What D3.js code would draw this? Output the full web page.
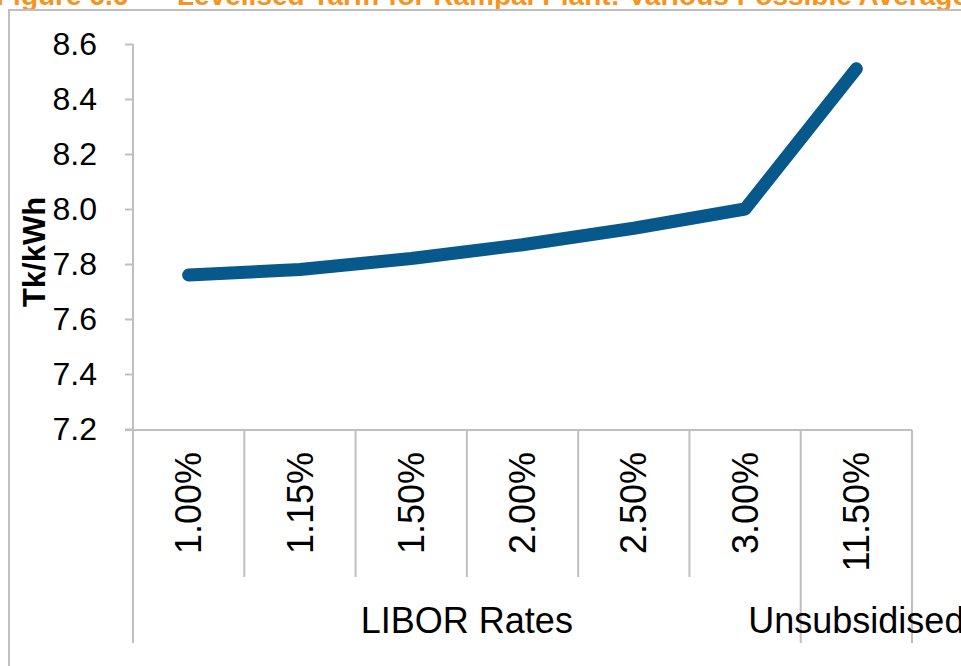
<!DOCTYPE html>
<html>
<head>
<meta charset="utf-8">
<script src="https://cdn.jsdelivr.net/npm/d3@7"></script>
<style>
  body { margin: 0; background: #fff; }
  svg { display: block; font-family: "Liberation Sans", Arial, sans-serif; }
</style>
</head>
<body>
<div id="chart"></div>
<script>
// data
const categories = ["1.00%", "1.15%", "1.50%", "2.00%", "2.50%", "3.00%", "11.50%"];
const tariff = [7.76, 7.78, 7.82, 7.87, 7.93, 8.00, 8.51];
const groupNames = ["LIBOR Rates", "Unsubsidised"];
const groupSizes = [6, 1];
const yTicks = [7.2, 7.4, 7.6, 7.8, 8.0, 8.2, 8.4, 8.6];

const width = 961, height = 666;
const axisColor = "#bfbfbf";
const lineColor = "#07598c";

const svg = d3.select("#chart").append("svg")
    .attr("width", width)
    .attr("height", height);

// title, mostly cut off by the top edge
const title = svg.append("text")
    .attr("y", 5)
    .attr("fill", "#f7941d")
    .style("font-weight", "bold")
    .style("font-size", "28px");
title.append("tspan").attr("x", -4).text("Figure 6.6 –");
title.append("tspan").attr("x", 177).text("Levelised Tariff for Rampal Plant: Various Possible Average LIBOR Rates");

// chart frame
svg.append("rect")
    .attr("x", 9).attr("y", 10)
    .attr("width", 1000).attr("height", 700)
    .attr("fill", "none")
    .attr("stroke", axisColor)
    .attr("stroke-width", 2);

const x = d3.scaleBand()
    .domain(categories)
    .range([133, 912])
    .padding(0);

const y = d3.scaleLinear()
    .domain([7.2, 8.6])
    .range([429, 44]);

// y axis
const yAxis = svg.append("g")
    .attr("transform", "translate(133,0)")
    .call(d3.axisLeft(y).tickValues(yTicks).tickFormat(d3.format(".1f")).tickSize(8).tickPadding(28));
yAxis.selectAll("line").attr("stroke", axisColor).attr("stroke-width", 2);
yAxis.select(".domain").remove();
yAxis.selectAll("text")
    .attr("fill", "#000")
    .style("font-size", "32px")
    .style("font-family", "'Liberation Sans', Arial, sans-serif");

const grid = svg.append("g")
    .attr("stroke", axisColor)
    .attr("stroke-width", 2)
    .attr("fill", "none");

// vertical axis line, runs down through the category area
grid.append("line")
    .attr("x1", 133).attr("x2", 133)
    .attr("y1", y(8.6)).attr("y2", 643);

// horizontal axis
grid.append("line")
    .attr("x1", 125).attr("x2", x.range()[1])
    .attr("y1", 430).attr("y2", 430);

// category dividers
grid.selectAll(".div")
    .data(categories)
    .join("line")
    .attr("x1", d => x(d) + x.bandwidth())
    .attr("x2", d => x(d) + x.bandwidth())
    .attr("y1", 430).attr("y2", 577);

// group dividers
let start = 0;
const groups = groupNames.map((name, i) => {
  const first = categories[start];
  const last = categories[start + groupSizes[i] - 1];
  start += groupSizes[i];
  return { name, x0: x(first), x1: x(last) + x.bandwidth() };
});

grid.selectAll(".gdiv")
    .data(groups)
    .join("line")
    .attr("x1", d => d.x1).attr("x2", d => d.x1)
    .attr("y1", 577).attr("y2", 643);

// rotated category labels
svg.append("g")
    .selectAll("text")
    .data(categories)
    .join("text")
    .attr("transform", d => `translate(${x(d) + x.bandwidth() / 2},452) rotate(-90)`)
    .attr("dy", "0.35em")
    .attr("text-anchor", "end")
    .style("font-size", "36px")
    .text(d => d);

// group labels
svg.append("g")
    .selectAll("text")
    .data(groups)
    .join("text")
    .attr("x", d => (d.x0 + d.x1) / 2)
    .attr("y", 633)
    .attr("text-anchor", "middle")
    .style("font-size", "36px")
    .text(d => d.name);

// y axis title
svg.append("text")
    .attr("transform", "translate(45,252) rotate(-90)")
    .attr("text-anchor", "middle")
    .style("font-size", "31px")
    .style("font-weight", "bold")
    .text("Tk/kWh");

// the series line
const line = d3.line()
    .x((d, i) => x(categories[i]) + x.bandwidth() / 2)
    .y(d => y(d));

svg.append("path")
    .datum(tariff)
    .attr("d", line)
    .attr("fill", "none")
    .attr("stroke", lineColor)
    .attr("stroke-width", 13)
    .attr("stroke-linecap", "round")
    .attr("stroke-linejoin", "round");
</script>
</body>
</html>
